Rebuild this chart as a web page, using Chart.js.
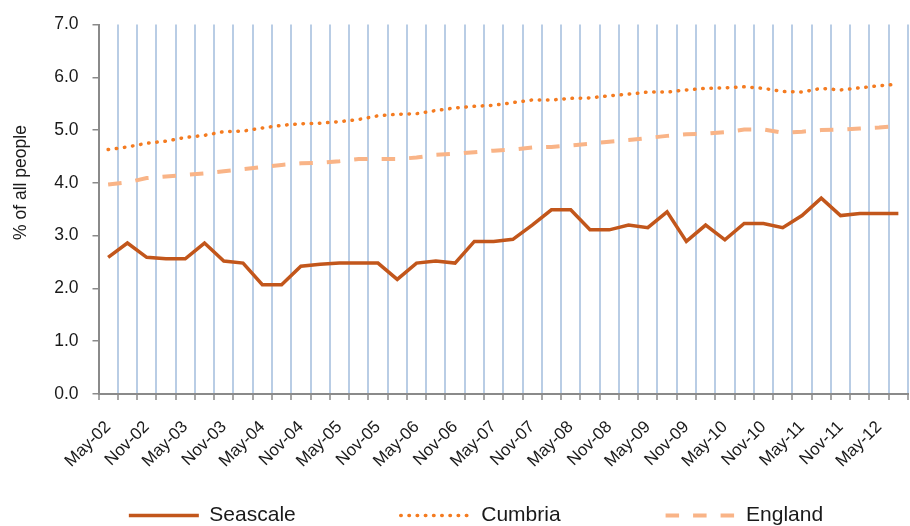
<!DOCTYPE html>
<html>
<head>
<meta charset="utf-8">
<script src="https://cdn.jsdelivr.net/npm/chart.js@4/dist/chart.umd.min.js"></script>
<style>
  html, body { margin: 0; padding: 0; background: #fff; }
  canvas { display: block; }
</style>
</head>
<body>
<canvas id="chart" width="910" height="526"></canvas>
<script>
// quarterly claimant rate, % of all people
const quarters = [
    'May-02', 'Aug-02', 'Nov-02', 'Feb-03', 'May-03', 'Aug-03', 'Nov-03', 'Feb-04',
    'May-04', 'Aug-04', 'Nov-04', 'Feb-05', 'May-05', 'Aug-05', 'Nov-05', 'Feb-06',
    'May-06', 'Aug-06', 'Nov-06', 'Feb-07', 'May-07', 'Aug-07', 'Nov-07', 'Feb-08',
    'May-08', 'Aug-08', 'Nov-08', 'Feb-09', 'May-09', 'Aug-09', 'Nov-09', 'Feb-10',
    'May-10', 'Aug-10', 'Nov-10', 'Feb-11', 'May-11', 'Aug-11', 'Nov-11', 'Feb-12',
    'May-12', 'Aug-12'
];
const seascale = [
    2.59, 2.86, 2.59, 2.56, 2.56, 2.86, 2.52, 2.48, 2.07, 2.07,
    2.42, 2.46, 2.48, 2.48, 2.48, 2.17, 2.48, 2.52, 2.48, 2.89,
    2.89, 2.93, 3.20, 3.49, 3.49, 3.11, 3.11, 3.20, 3.15, 3.45,
    2.89, 3.20, 2.92, 3.23, 3.23, 3.15, 3.38, 3.71, 3.38, 3.42,
    3.42, 3.42
];
const cumbria = [
    4.63, 4.68, 4.75, 4.79, 4.86, 4.90, 4.97, 4.98, 5.04, 5.09,
    5.12, 5.13, 5.16, 5.20, 5.27, 5.30, 5.31, 5.37, 5.42, 5.45,
    5.47, 5.52, 5.57, 5.57, 5.60, 5.61, 5.65, 5.68, 5.72, 5.72,
    5.76, 5.79, 5.80, 5.82, 5.79, 5.73, 5.72, 5.79, 5.76, 5.80,
    5.84, 5.87
];
const england = [
    3.97, 4.01, 4.09, 4.12, 4.15, 4.18, 4.22, 4.26, 4.30, 4.34,
    4.37, 4.38, 4.41, 4.45, 4.45, 4.45, 4.48, 4.53, 4.55, 4.58,
    4.61, 4.63, 4.67, 4.68, 4.71, 4.74, 4.78, 4.81, 4.85, 4.89,
    4.92, 4.93, 4.96, 5.01, 5.01, 4.95, 4.97, 5.00, 5.01, 5.03,
    5.05, 5.08
];
const yMin = 0;
const yMax = 7;

const FONT = 'Liberation Sans, Arial, sans-serif';
const AXIS_GREY = '#8a8a8a';
const TEXT = '#1a1a1a';
const LEGEND_PAD = 105;

// move the legend row to where Excel put it (lower and a bit right)
const legendShift = {
    id: 'legendShift',
    afterLayout(chart) {
        const lg = chart.legend;
        lg.left += 22;
        lg.right += 22;
        lg.top = 505 - LEGEND_PAD;
        lg.bottom = chart.height;
        lg.height = lg.bottom - lg.top;
    }
};

function legendLabels(chart) {
    const items = Chart.defaults.plugins.legend.labels.generateLabels(chart);
    items.forEach(function (item) {
        const ds = chart.data.datasets[item.datasetIndex];
        item.lineDash = ds.borderDash || [];
        item.lineCap = ds.borderCapStyle || 'butt';
        item.lineWidth = ds.borderWidth;
        item.strokeStyle = ds.borderColor;
    });
    return items;
}

function initChart(ctx) {
    new Chart(ctx, {
        type: 'line',
        data: {
            labels: quarters,
            datasets: [
                {
                    label: 'Seascale',
                    data: seascale,
                    borderColor: '#c2561b',
                    borderWidth: 3.5,
                    pointRadius: 0,
                    tension: 0
                },
                {
                    label: 'Cumbria',
                    data: cumbria,
                    borderColor: '#f47b20',
                    borderWidth: 3.5,
                    borderDash: [0.5, 7.7],
                    borderCapStyle: 'round',
                    pointRadius: 0,
                    tension: 0
                },
                {
                    label: 'England',
                    data: england,
                    borderColor: '#f9b487',
                    borderWidth: 4,
                    borderDash: [13.5, 14],
                    pointRadius: 0,
                    tension: 0
                }
            ]
        },
        options: {
            responsive: false,
            animation: false,
            devicePixelRatio: 1,
            layout: {
                padding: { top: 19, right: 2, left: 0, bottom: 0 }
            },
            scales: {
                x: {
                    offset: true,
                    grid: {
                        offset: true,
                        color: '#b9cde5',
                        lineWidth: 2,
                        tickColor: AXIS_GREY,
                        tickWidth: 1.5,
                        tickLength: 6
                    },
                    border: { color: AXIS_GREY, width: 2 },
                    ticks: {
                        autoSkip: false,
                        minRotation: 45,
                        maxRotation: 45,
                        padding: 17,
                        color: TEXT,
                        font: { family: FONT, size: 17 },
                        callback: function (value, index) {
                            return index % 2 === 0 ? quarters[index] : '';
                        }
                    },
                    afterFit: function (scale) {
                        scale.height = 92;
                        scale.paddingLeft = 0;
                        scale.paddingRight = 0;
                    }
                },
                y: {
                    min: yMin,
                    max: yMax,
                    grid: {
                        drawOnChartArea: false,
                        color: AXIS_GREY,
                        lineWidth: 1.5,
                        tickLength: 6
                    },
                    border: { color: AXIS_GREY, width: 2 },
                    ticks: {
                        stepSize: 1,
                        padding: 14,
                        color: TEXT,
                        font: { family: FONT, size: 17.5 },
                        callback: function (value) {
                            return value.toFixed(1);
                        }
                    },
                    title: {
                        display: true,
                        text: '\u00a0'.repeat(11) + '% of all people',
                        color: TEXT,
                        font: { family: FONT, size: 17.5 },
                        padding: { top: 11, bottom: 0 }
                    },
                    afterFit: function (scale) {
                        scale.width = 98.5;
                    }
                }
            },
            plugins: {
                legend: {
                    position: 'bottom',
                    maxHeight: 40,
                    labels: {
                        usePointStyle: true,
                        pointStyle: 'line',
                        pointStyleWidth: 70,
                        padding: LEGEND_PAD,
                        color: TEXT,
                        font: { family: FONT, size: 21 },
                        generateLabels: legendLabels
                    }
                },
                tooltip: { enabled: false }
            }
        },
        plugins: [legendShift]
    });
}

initChart(document.getElementById('chart'));
</script>
</body>
</html>
